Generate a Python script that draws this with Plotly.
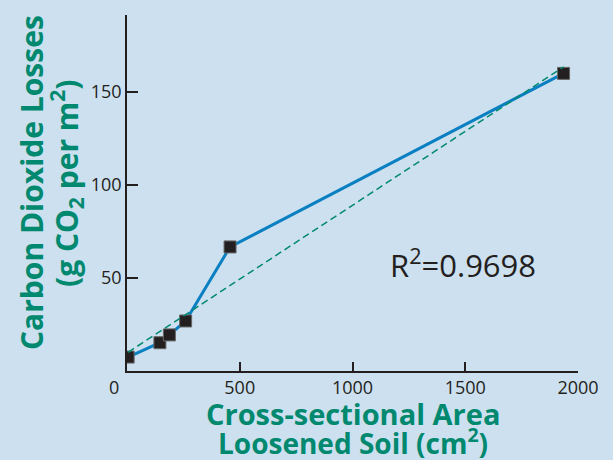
import numpy as np
import plotly.graph_objects as go

# Data
area_cm2 = [5, 146, 188, 260, 457, 1936]
co2_loss = [7.5, 15.2, 19.4, 26.9, 66.7, 160]
x_ticks = [500, 1000, 1500, 2000]
y_ticks = [50, 100, 150]
r2_text = "R<sup>2</sup>=0.9698"

BG = "#cde0ef"
TEAL = "#00896f"
BLUE = "#0a80c2"
INK = "#231f20"

slope, intercept = np.polyfit(area_cm2, co2_loss, 1)
fit_x = [min(area_cm2), max(area_cm2)]
fit_y = [slope * v + intercept for v in fit_x]

fig = go.Figure()
fig.add_trace(go.Scatter(x=area_cm2, y=co2_loss, mode="lines",
                         line=dict(color=BLUE, width=3), hoverinfo="skip"))
fig.add_trace(go.Scatter(x=area_cm2, y=co2_loss, mode="markers",
                         marker=dict(symbol="square", size=12, color=INK,
                                     line=dict(color="#666", width=1))))
fig.add_trace(go.Scatter(x=fit_x, y=fit_y, mode="lines",
                         line=dict(color=TEAL, width=1.5, dash="7px,4px")))

fig.update_layout(
    width=613, height=460,
    paper_bgcolor=BG, plot_bgcolor=BG,
    showlegend=False,
    margin=dict(l=127, r=35, t=15, b=89),
    font=dict(family="Open Sans", color=INK),
    xaxis=dict(range=[0, 2000], tickvals=x_ticks, ticks="inside", ticklen=9,
               tickwidth=1.5, tickcolor=INK, showline=True, linecolor=INK,
               linewidth=1.5, showgrid=False, zeroline=False,
               tickfont=dict(size=18, color=INK)),
    yaxis=dict(range=[0, 191.4], tickvals=y_ticks, ticks="inside", ticklen=11,
               tickwidth=1.5, tickcolor=INK, showline=True, linecolor=INK,
               linewidth=1.5, showgrid=False, zeroline=False,
               tickfont=dict(size=18, color=INK)),
)

# "0" label offset left of origin
fig.add_annotation(x=0, y=0, xref="x", yref="y", text="0", showarrow=False,
                   xshift=-13, yshift=-16, font=dict(size=18, color=INK))

# R^2 label
fig.add_annotation(x=1488, y=58, xref="x", yref="y", text=r2_text,
                   showarrow=False, xanchor="center", yanchor="middle",
                   font=dict(size=31, color=INK, family="Open Sans"))

# X title (two lines)
fig.add_annotation(x=0.5, y=0, xref="paper", yref="paper",
                   text="<b>Cross-sectional Area</b>",
                   showarrow=False, xanchor="center", yanchor="middle",
                   yshift=-42, font=dict(size=29, color=TEAL, family="Open Sans"))
fig.add_annotation(x=0.5, y=0, xref="paper", yref="paper",
                   text="<b>Loosened Soil (cm<sup>2</sup>)</b>",
                   showarrow=False, xanchor="center", yanchor="middle",
                   yshift=-70, font=dict(size=28, color=TEAL, family="Open Sans"))

# Y title (two lines, rotated)
fig.add_annotation(x=0, y=0.528, xref="paper", yref="paper",
                   text="<b>Carbon Dioxide Losses</b>",
                   showarrow=False, textangle=-90, xanchor="center", yanchor="middle",
                   xshift=-96, font=dict(size=30, color=TEAL, family="Open Sans"))
fig.add_annotation(x=0, y=0.528, xref="paper", yref="paper",
                   text="<b>(g CO<sub>2</sub> per m<sup>2</sup>)</b>",
                   showarrow=False, textangle=-90, xanchor="center", yanchor="middle",
                   xshift=-61, font=dict(size=30, color=TEAL, family="Open Sans"))

fig.write_html("out.html", config={"displayModeBar": False},
               post_script="document.body.style.margin='0';")
